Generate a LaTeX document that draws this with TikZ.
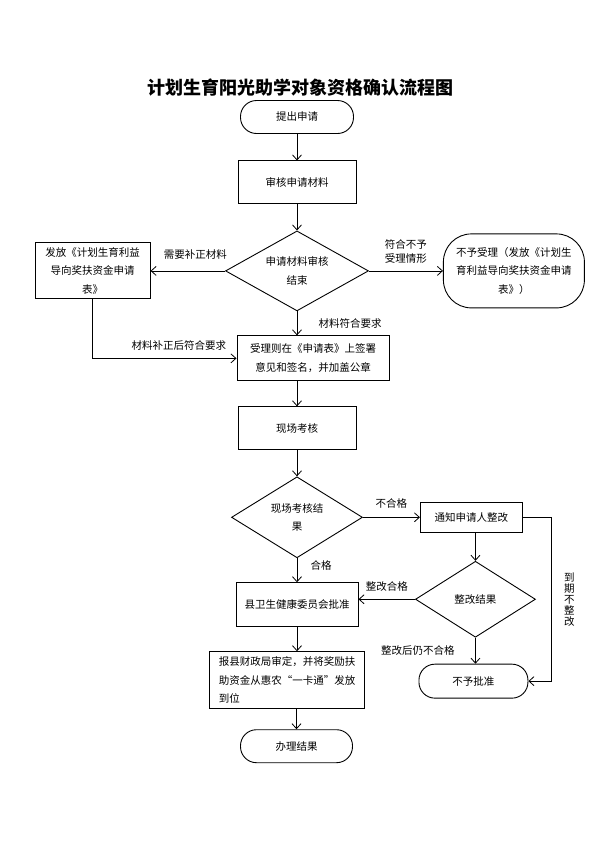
\documentclass[tikz,border=0pt]{standalone}
\usepackage{fontspec}
\setmainfont{Noto Sans CJK SC}
\usetikzlibrary{shapes.geometric, arrows.meta, positioning}

\begin{document}
\begin{tikzpicture}[
    x=1pt, y=1pt,
    font=\fontsize{10.5}{18.5}\selectfont,
    box/.style={rectangle, draw, line width=1pt, minimum width=118pt, minimum height=43pt, align=center},
    term/.style={rectangle, draw, line width=0.9pt, rounded corners=16pt, minimum width=113pt, minimum height=33pt, align=center},
    decision/.style={diamond, draw, line width=0.9pt, aspect=1.8, minimum width=143pt, minimum height=80pt, inner sep=0pt, align=center},
    arrow/.style={-{Straight Barb[length=5pt, width=9pt]}, line width=0.8pt},
    lbl/.style={align=center, font=\fontsize{10.5}{14}\selectfont}
]
\useasboundingbox (0,0) rectangle (595,-841);

\node[font=\fontsize{18}{20}\selectfont\bfseries] (title) at (300,-88) {计划生育阳光助学对象资格确认流程图};

% main column
\node[term] (start) at (297,-117) {提出申请};
\node[box, below=26.5pt of start] (review) {审核申请材料};
\node[decision, below=26pt of review] (check) {申请材料审核\\结束};
\node[box, minimum width=115pt, minimum height=56pt, left=74.5pt of check] (issue) {发放《计划生育利益\\导向奖扶资金申请\\表》};
\node[term, minimum width=141pt, minimum height=74pt, rounded corners=28pt, right=74pt of check] (refuse) {不予受理（发放《计划生\\育利益导向奖扶资金申请\\表》）};
\node[box, minimum width=152pt, minimum height=45pt, below=24pt of check, xshift=16pt] (accept) {受理则在《申请表》上签署\\意见和签名，并加盖公章};
\node[box, below=25pt of accept, xshift=-16pt] (site) {现场考核};
\node[decision, minimum width=131pt, minimum height=81pt, below=26pt of site] (result) {现场考核结\\果};
\node[box, minimum width=122pt, minimum height=44pt, below=24pt of result] (approve) {县卫生健康委员会批准};
\node[box, minimum width=155pt, minimum height=57pt, align=left, below=24pt of approve, xshift=-10pt] (report) {报县财政局审定，并将奖励扶\\助资金从惠农“一卡通”发放\\到位};
\node[term, minimum width=112pt, below=20pt of report, xshift=9.5pt] (finish) {办理结果};

% rectification branch
\node[box, minimum width=102pt, minimum height=30pt, right=57pt of result] (notify) {通知申请人整改};
\node[decision, minimum width=120pt, minimum height=76pt, below=28pt of notify, xshift=4pt] (fix) {整改结果};
\node[term, minimum width=109pt, minimum height=34pt, below=26pt of fix, xshift=-2pt] (reject) {不予批准};

\draw[arrow] (start) -- (review);
\draw[arrow] (review) -- (check);
\draw[arrow] (check.west) -- (check.west -| issue.east) node[lbl, pos=0.4, above=8pt] {需要补正材料};
\draw[arrow] (check.east) -- (check.east -| refuse.west) node[lbl, midway, above=4pt] {符合不予\\受理情形};
\draw[arrow] (check.south) -- (check.south |- accept.north) node[lbl, midway, right=18pt] {材料符合要求};
\draw[arrow] (issue.south) |- (accept.west) node[lbl, pos=0.8, above=4pt] {材料补正后符合要求};
\draw[arrow] (accept.south -| site.north) -- (site.north);
\draw[arrow] (site) -- (result);
\draw[arrow] (result.east) -- (notify.west) node[lbl, midway, above=5pt] {不合格};
\draw[arrow] (result.south) -- (approve.north) node[lbl, pos=0.3, right=10pt] {合格};
\draw[arrow] (notify.south -| fix.north) -- (fix.north);
\draw[arrow] (fix.west) -- (fix.west -| approve.east) node[lbl, midway, above=4pt] {整改合格};
\draw[arrow] (fix.south) -- (fix.south |- reject.north) node[lbl, midway, left=17pt] {整改后仍不合格};
\draw[arrow] (notify.east) -| ([xshift=23pt]reject.east) node[lbl, pos=0.75, right=9pt, font=\fontsize{10.5}{11}\selectfont] {到\\期\\不\\整\\改} -- (reject.east);
\draw[arrow] (approve.south) -- (approve.south |- report.north);
\draw[arrow] (finish.north |- report.south) -- (finish.north);

\end{tikzpicture}
\end{document}
